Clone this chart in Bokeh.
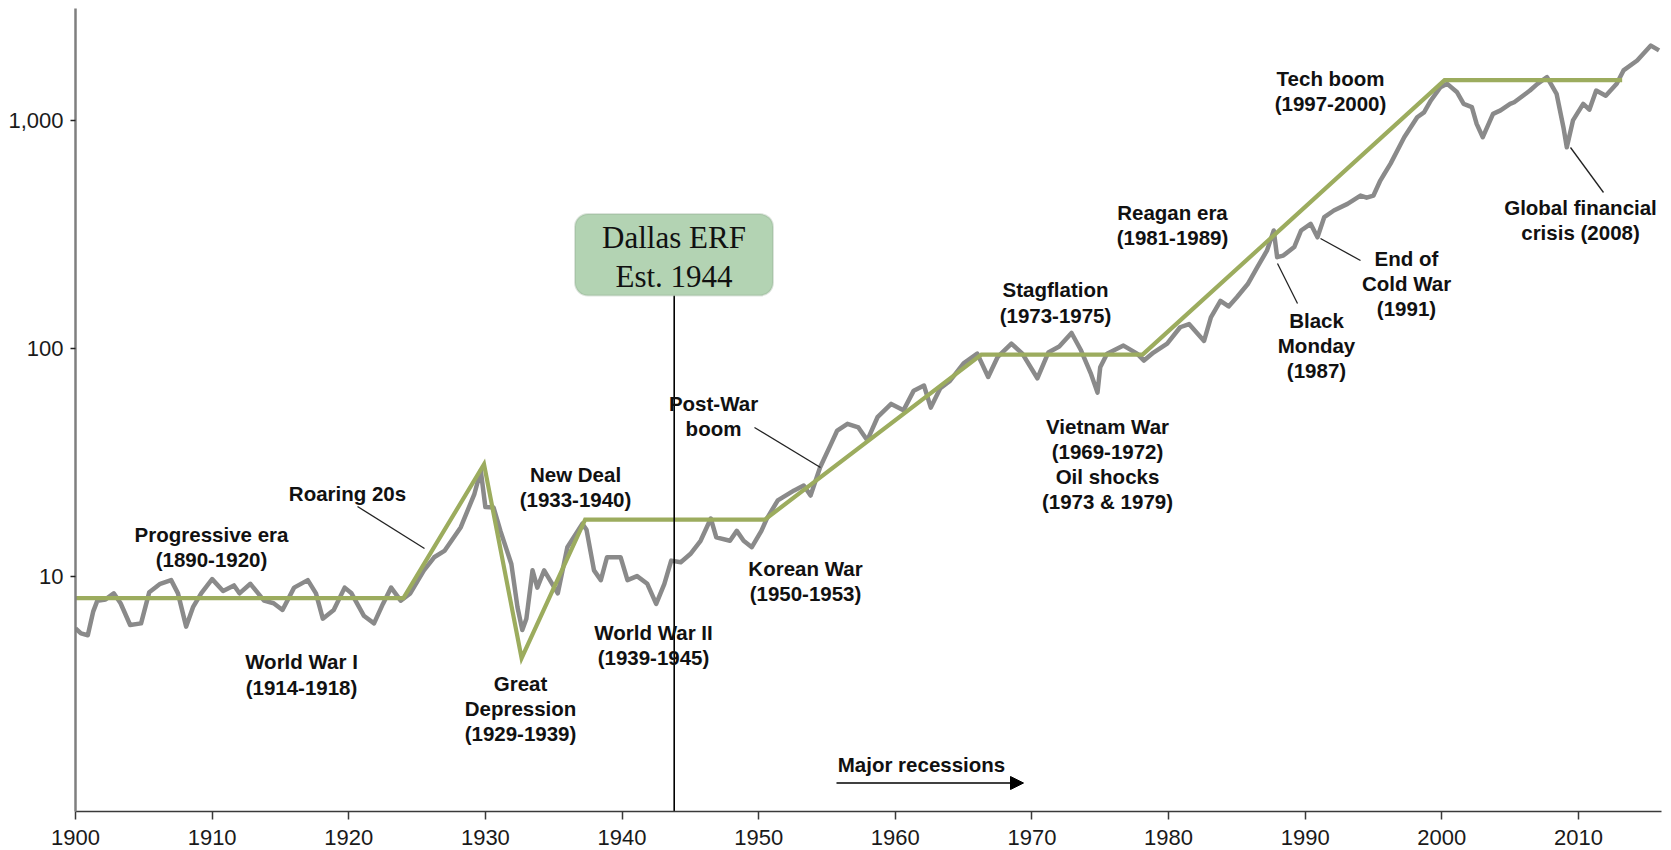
from bokeh.plotting import figure
from bokeh.models import (Label, Arrow, NormalHead, BoxAnnotation, Range1d,
                          FixedTicker, NumeralTickFormatter, PrintfTickFormatter)
from bokeh.embed import file_html
from bokeh.resources import INLINE

# ---------------- data ----------------
index_years = [
    1900.0, 1900.4, 1900.9, 1901.3, 1901.6, 1902.2, 1902.8, 1903.3, 1904.0, 1904.8,
    1905.4, 1906.2, 1907.0, 1907.5, 1908.1, 1908.6, 1909.2, 1910.0, 1910.8, 1911.6,
    1912.0, 1912.8, 1913.8, 1914.5, 1915.15, 1916.0, 1917.0, 1917.6, 1918.1, 1918.9,
    1919.7, 1920.2, 1921.1, 1921.85, 1922.5, 1923.1, 1923.8, 1924.5, 1925.5, 1926.25,
    1927.0, 1928.2, 1929.2, 1929.66, 1930.0, 1930.6, 1931.1, 1931.9, 1932.35, 1932.7,
    1933.0, 1933.45, 1933.8, 1934.3, 1935.3, 1936.0, 1937.1, 1937.4, 1937.95, 1938.45,
    1938.9, 1939.9, 1940.4, 1941.1, 1941.85, 1942.5, 1943.1, 1943.6, 1944.3, 1945.0,
    1945.75, 1946.5, 1946.9, 1947.9, 1948.4, 1948.9, 1949.5, 1950.2, 1950.6, 1951.4,
    1952.6, 1953.3, 1953.8, 1954.5, 1955.3, 1955.75, 1956.5, 1957.3, 1957.95, 1958.7,
    1959.7, 1960.6, 1961.35, 1962.1, 1962.6, 1963.3, 1964.0, 1965.0, 1966.0, 1966.8,
    1967.5, 1968.5, 1969.3, 1970.4, 1971.2, 1972.0, 1972.9, 1973.6, 1974.3, 1974.8,
    1975.0, 1975.5, 1976.7, 1977.7, 1978.2, 1978.9, 1979.9, 1980.85, 1981.5, 1982.6,
    1983.1, 1983.8, 1984.4, 1985.0, 1985.8, 1986.5, 1987.2, 1987.7, 1987.95, 1988.4,
    1989.2, 1989.7, 1990.4, 1990.9, 1991.4, 1992.1, 1993.1, 1994.05, 1994.5, 1995.0,
    1995.5, 1995.8, 1996.25, 1997.25, 1998.2, 1998.7, 1999.2, 1999.9, 2000.4, 2001.1,
    2001.6, 2002.2, 2002.55, 2003.0, 2003.75, 2004.3, 2005.0, 2005.3, 2006.45, 2007.0,
    2007.7, 2008.4, 2008.9, 2009.15, 2009.6, 2010.35, 2010.8, 2011.3, 2012.0, 2012.8,
    2013.3, 2014.3, 2015.3, 2015.9,
]
index_values = [
    5.9, 5.6, 5.5, 7.0, 7.8, 7.9, 8.4, 7.6, 6.1, 6.2,
    8.5, 9.25, 9.6, 8.4, 6.0, 7.3, 8.4, 9.7, 8.6, 9.1,
    8.4, 9.25, 7.8, 7.6, 7.1, 8.9, 9.6, 8.4, 6.5, 7.1,
    8.9, 8.4, 6.7, 6.2, 7.55, 8.9, 7.8, 8.4, 10.6, 12.1,
    12.9, 16.4, 23.0, 29.1, 20.1, 20.0, 15.8, 11.3, 7.3, 5.8,
    6.5, 10.6, 8.9, 10.6, 8.4, 13.4, 17.0, 16.0, 10.6, 9.6,
    12.1, 12.1, 9.6, 10.0, 9.25, 7.55, 9.25, 11.7, 11.5, 12.5,
    14.3, 17.9, 14.8, 14.3, 15.8, 14.3, 13.4, 15.8, 17.9, 21.5,
    23.8, 25.0, 22.6, 30.1, 38.1, 43.6, 46.7, 45.0, 39.5, 49.9,
    57.1, 53.5, 65.3, 68.8, 55.0, 67.0, 72.0, 86.0, 95.0, 75.0,
    92.0, 105.0, 95.0, 74.0, 96.0, 102.0, 117.0, 98.0, 78.0, 64.0,
    82.8, 94.8, 103.0, 95.0, 88.5, 96.0, 105.0, 124.0, 128.0, 108.0,
    137.0, 162.0, 153.0, 168.0, 192.0, 228.0, 269.0, 330.0, 252.0, 256.0,
    279.0, 330.0, 353.0, 308.0, 378.0, 404.0, 432.0, 470.0, 460.0, 470.0,
    547.0, 586.0, 649.0, 848.0, 1038.0, 1090.0, 1230.0, 1407.0, 1455.0, 1340.0,
    1188.0, 1150.0, 970.0, 848.0, 1074.0, 1112.0, 1188.0, 1208.0, 1360.0, 1455.0,
    1556.0, 1316.0, 938.0, 766.0, 1005.0, 1188.0, 1120.0, 1360.0, 1290.0, 1455.0,
    1667.0, 1842.0, 2143.0, 2040.0,
]

trend_years = [1900.0, 1924.0, 1929.9, 1932.65, 1937.3, 1950.45, 1966.3, 1978.1, 2000.2, 2013.2]
trend_values = [8.0, 8.0, 31.0, 4.36, 17.7, 17.7, 94.0, 94.0, 1510.0, 1510.0]

x_ticks = [1900, 1910, 1920, 1930, 1940, 1950, 1960, 1970, 1980, 1990, 2000, 2010]
y_ticks = [10, 100, 1000]

founded_year = 1944

# ---------------- geometry (page pixels of the plot frame) ----------------
FRAME_LEFT = 75.0
FRAME_TOP = 8.0
BORDER_BOTTOM = 39
FIG_W, FIG_H = 1671, 850
X_START, X_END = 1900.0, 2016.08
FRAME_W = FIG_W - 75 - 10
FRAME_H = FIG_H - 8 - BORDER_BOTTOM
PX_PER_DEC = 227.6
LOG_TOP = 3.4939
LOG_BOT = LOG_TOP - FRAME_H / PX_PER_DEC


def px2x(px):
    return X_START + (px - FRAME_LEFT) * (X_END - X_START) / FRAME_W


def py2y(py):
    return 10 ** (LOG_TOP - (py - FRAME_TOP) / PX_PER_DEC)


p = figure(width=FIG_W, height=FIG_H,
           x_range=Range1d(X_START, X_END),
           y_range=Range1d(10 ** LOG_BOT, 10 ** LOG_TOP),
           y_axis_type="log",
           output_backend="svg", toolbar_location=None,
           min_border_left=75, min_border_right=10,
           min_border_top=8, min_border_bottom=BORDER_BOTTOM)

p.xgrid.visible = False
p.ygrid.visible = False
p.outline_line_color = None
p.background_fill_color = "white"
p.border_fill_color = "white"

# axes
p.xaxis.ticker = FixedTicker(ticks=x_ticks)
p.xaxis.formatter = PrintfTickFormatter(format="%d")
p.xaxis.axis_line_color = "#3a3a3a"
p.xaxis.axis_line_width = 1.5
p.xaxis.major_tick_line_color = "#3a3a3a"
p.xaxis.major_tick_line_width = 1.5
p.xaxis.major_tick_out = 8
p.xaxis.major_tick_in = 0
p.xaxis.minor_tick_line_color = None
p.xaxis.major_label_standoff = 10
p.xaxis.major_label_text_line_height = 0.5

p.yaxis.ticker = FixedTicker(ticks=y_ticks)
p.yaxis.formatter = NumeralTickFormatter(format="0,0")
p.yaxis.axis_line_color = "#7f7f7f"
p.yaxis.axis_line_width = 2.5
p.yaxis.major_tick_line_color = "#222222"
p.yaxis.major_tick_line_width = 1.5
p.yaxis.major_tick_out = 5
p.yaxis.major_tick_in = 0
p.yaxis.minor_tick_line_color = None
p.yaxis.major_label_standoff = 7

for ax in (p.xaxis, p.yaxis):
    ax.major_label_text_font = "Liberation Sans"
    ax.major_label_text_font_size = "22px"
    ax.major_label_text_color = "#1a1a1a"

# series
p.line(index_years, index_values, line_color="#8a8a8a", line_width=4.5, line_join="round")
p.line(trend_years, trend_values, line_color="#9cac5e", line_width=4.2, line_join="miter")

# vertical founding line (drawn where the reference places it)
line_x = px2x(673.7)
p.segment(x0=[line_x], y0=[10 ** LOG_BOT], x1=[line_x], y1=[py2y(295)],
          line_color="black", line_width=1.6)

# Dallas ERF box
box = BoxAnnotation(left=px2x(574.5), right=px2x(772.5), top=py2y(213.5), bottom=py2y(295),
                    fill_color="#b3d3b3", fill_alpha=1.0,
                    line_color="#8aa58a", line_width=2, border_radius=13)
p.add_layout(box)
for txt, py in (("Dallas ERF", 236.5), ("Est. %d" % founded_year, 275.5)):
    p.add_layout(Label(x=px2x(673.5), y=py2y(py), text=txt, text_align="center",
                       text_baseline="middle", text_font="Liberation Serif",
                       text_font_size="31px", text_color="#111111"))

# leader lines (page pixel endpoints)
leaders = [
    (357, 506, 424, 548),      # Roaring 20s
    (754, 427, 820, 467),      # Post-War boom
    (1277, 263, 1297, 303),    # Black Monday
    (1320, 238, 1360, 260),    # End of Cold War
    (1570, 147, 1603, 192),    # Global financial crisis
]
p.segment(x0=[px2x(a) for a, b, c, d in leaders], y0=[py2y(b) for a, b, c, d in leaders],
          x1=[px2x(c) for a, b, c, d in leaders], y1=[py2y(d) for a, b, c, d in leaders],
          line_color="#222222", line_width=1.3)

# recession arrow
p.add_layout(Arrow(end=NormalHead(size=13, fill_color="black", line_color="black"),
                   x_start=px2x(836), y_start=py2y(782.5), x_end=px2x(1023), y_end=py2y(782.5),
                   line_color="black", line_width=1.5))

annotations = [
    ("Progressive era", 211, 534), ("(1890-1920)", 211, 559),
    ("Roaring 20s", 347, 493),
    ("World War I", 301, 661), ("(1914-1918)", 301, 686.5),
    ("Great", 520, 683), ("Depression", 520, 708), ("(1929-1939)", 520, 733),
    ("New Deal", 575, 474), ("(1933-1940)", 575, 499),
    ("World War II", 653, 631.5), ("(1939-1945)", 653, 656.5),
    ("Korean War", 805, 568), ("(1950-1953)", 805, 593),
    ("Post-War", 713, 403), ("boom", 713, 427.5),
    ("Stagflation", 1055, 289), ("(1973-1975)", 1055, 315),
    ("Vietnam War", 1107, 426), ("(1969-1972)", 1107, 451),
    ("Oil shocks", 1107, 476), ("(1973 & 1979)", 1107, 501),
    ("Reagan era", 1172, 212), ("(1981-1989)", 1172, 237),
    ("Black", 1316, 320), ("Monday", 1316, 345), ("(1987)", 1316, 370),
    ("End of", 1406, 258), ("Cold War", 1406, 283), ("(1991)", 1406, 308),
    ("Tech boom", 1330, 78), ("(1997-2000)", 1330, 103),
    ("Global financial", 1580, 206.5), ("crisis (2008)", 1580, 231.5),
    ("Major recessions", 921, 764),
]
for txt, px, py in annotations:
    p.add_layout(Label(x=px2x(px), y=py2y(py), text=txt, text_align="center",
                       text_baseline="middle", text_font="Liberation Sans",
                       text_font_style="bold", text_font_size="20.5px",
                       text_color="#111111"))

open("out.html", "w").write(file_html(p, INLINE))
